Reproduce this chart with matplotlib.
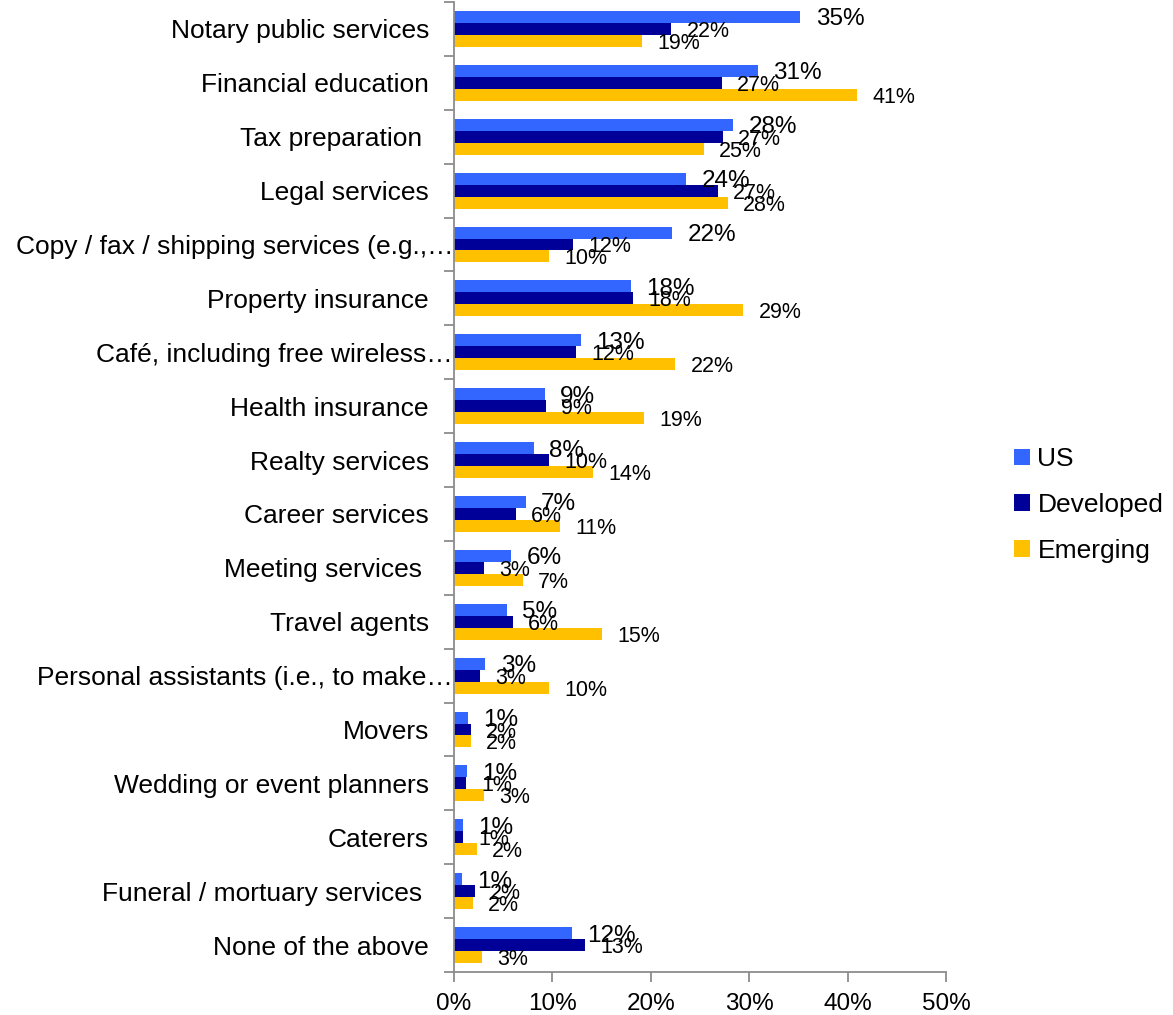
import matplotlib
matplotlib.use("Agg")
import matplotlib.pyplot as plt
from matplotlib.ticker import FixedLocator, PercentFormatter
from matplotlib.transforms import ScaledTranslation
import numpy as np

plt.rcParams["font.family"] = ["Liberation Sans", "DejaVu Sans"]

categories = [
    "Notary public services",
    "Financial education",
    "Tax preparation ",
    "Legal services",
    "Copy / fax / shipping services (e.g.,\u2026",
    "Property insurance",
    "Caf\u00e9, including free wireless\u2026",
    "Health insurance",
    "Realty services",
    "Career services",
    "Meeting services ",
    "Travel agents",
    "Personal assistants (i.e., to make\u2026",
    "Movers",
    "Wedding or event planners",
    "Caterers",
    "Funeral / mortuary services ",
    "None of the above",
]

us = [35.2, 30.9, 28.4, 23.6, 22.2, 18.0, 12.9, 9.2, 8.1, 7.3, 5.8, 5.4, 3.2,
      1.4, 1.3, 0.9, 0.8, 12.0]
developed = [22.1, 27.2, 27.3, 26.8, 12.1, 18.2, 12.4, 9.3, 9.7, 6.3, 3.0, 6.0, 2.6,
             1.7, 1.2, 0.9, 2.1, 13.3]
emerging = [19.1, 41.0, 25.4, 27.8, 9.7, 29.4, 22.5, 19.3, 14.1, 10.8, 7.0, 15.0, 9.7,
            1.7, 3.0, 2.3, 1.9, 2.8]

series = [("US", us, "#3366FF", 17.5),
          ("Developed", developed, "#000099", 15.5),
          ("Emerging", emerging, "#FFC000", 15.5)]

x_ticks = [0, 10, 20, 30, 40, 50]

W, H, DPI = 1173, 1015, 100
fig = plt.figure(figsize=(W / DPI, H / DPI), dpi=DPI)
ax = fig.add_axes([454 / W, 1 - 972 / H, (946 - 454) / W, (972 - 2) / H])

y = np.arange(len(categories))
bar_h = 0.222
for k, (name, vals, color, fs) in enumerate(series):
    pos = y + (k - 1) * bar_h
    bars = ax.barh(pos, vals, height=bar_h, color=color, label=name, zorder=2)
    for b, v in zip(bars, vals):
        ax.annotate(f"{v:.0f}%", xy=(b.get_width(), b.get_y() + b.get_height() / 2),
                    xytext=(11, -1.8), textcoords="offset points",
                    ha="left", va="center", fontsize=fs, color="black", zorder=3)

ax.set_xlim(0, 50)
ax.set_ylim(len(categories) - 0.5, -0.5)

ax.set_xticks(x_ticks)
ax.xaxis.set_major_formatter(PercentFormatter(decimals=0))
ax.set_yticks(y)
ax.set_yticklabels(categories)
ax.yaxis.set_minor_locator(FixedLocator(np.arange(-0.5, len(categories), 1.0)))

for side in ("top", "right"):
    ax.spines[side].set_visible(False)
for side in ("left", "bottom"):
    ax.spines[side].set_color("#8c8c8c")
    ax.spines[side].set_linewidth(1.3)

ax.tick_params(axis="y", which="major", length=0, pad=18, labelsize=19)
ax.tick_params(axis="y", which="minor", length=7, width=1.3, color="#8c8c8c", direction="out")
ax.tick_params(axis="x", which="major", length=7, width=1.3, color="#8c8c8c",
               direction="out", pad=8, labelsize=17.5)

# long labels are cut with an ellipsis and run up to the axis line
for tick in ax.yaxis.get_major_ticks():
    if tick.label1.get_text().endswith("\u2026"):
        tick.label1.set_transform(tick.label1.get_transform()
                                  + ScaledTranslation(24 / DPI, 0, fig.dpi_scale_trans))

fig.legend(loc="center left", bbox_to_anchor=(1001 / W, 1 - 505 / H), frameon=False,
           fontsize=19, handlelength=0.58, handleheight=0.58, handletextpad=0.3,
           labelspacing=0.83, borderpad=0)

fig.savefig("out.png", dpi=DPI)
